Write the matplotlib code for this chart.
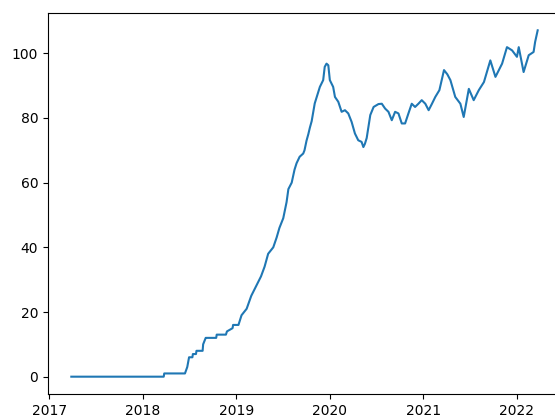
import matplotlib.pyplot as plt
import pandas as pd

dates = [
    "2017-03-28", "2018-03-24", "2018-03-26", "2018-06-15", "2018-06-24",
    "2018-07-01", "2018-07-14", "2018-07-16", "2018-07-28", "2018-07-30",
    "2018-08-23", "2018-08-25", "2018-09-04", "2018-09-08", "2018-10-15",
    "2018-10-17", "2018-11-22", "2018-11-26", "2018-12-18", "2018-12-20",
    "2019-01-08", "2019-01-10", "2019-01-22", "2019-02-11", "2019-03-01",
    "2019-03-20", "2019-04-08",
    "2019-04-22", "2019-05-06", "2019-05-26", "2019-06-08", "2019-06-19",
    "2019-07-04", "2019-07-17", "2019-07-24", "2019-08-06", "2019-08-17",
    "2019-08-25", "2019-09-06", "2019-09-20", "2019-09-25", "2019-10-03",
    "2019-10-10", "2019-10-16", "2019-10-23", "2019-11-04", "2019-11-24",
    "2019-12-07", "2019-12-13", "2019-12-20", "2019-12-27", "2020-01-02",
    "2020-01-15", "2020-01-22", "2020-02-04", "2020-02-17", "2020-03-01",
    "2020-03-14", "2020-03-27", "2020-04-09", "2020-04-22", "2020-05-05",
    "2020-05-12", "2020-05-18", "2020-05-25", "2020-06-08", "2020-06-21",
    "2020-07-10", "2020-07-23", "2020-08-05", "2020-08-18", "2020-08-31",
    "2020-09-13", "2020-09-26", "2020-10-09", "2020-10-22", "2020-11-04",
    "2020-11-17", "2020-11-30", "2020-12-13", "2020-12-26", "2021-01-09",
    "2021-01-22", "2021-02-04", "2021-02-17", "2021-03-05", "2021-03-23",
    "2021-04-05", "2021-04-17", "2021-05-06", "2021-05-26", "2021-06-08",
    "2021-06-28", "2021-07-17", "2021-08-06", "2021-08-26", "2021-09-20",
    "2021-10-10", "2021-11-05", "2021-11-24", "2021-12-14", "2022-01-02",
    "2022-01-09", "2022-01-28", "2022-02-17", "2022-03-08", "2022-03-14",
    "2022-03-24",
]
values = [
    0, 0, 1, 1, 3,
    6, 6, 7, 7, 8,
    8, 10, 12, 12, 12,
    13, 13, 14, 15, 16,
    16, 16, 19, 21, 25,
    28, 31,
    34, 38, 40, 43, 46,
    49, 54, 58, 60, 64,
    66, 68, 69, 70, 73,
    75, 77, 79, 84.5, 89.6,
    91.7, 95.8, 96.8, 96.3, 91.7,
    89.6, 86.5, 85, 81.9, 82.4,
    81.4, 78.8, 75.2, 73.1, 72.6,
    71, 72, 73.8, 80.9, 83.4,
    84.3, 84.4, 82.9, 81.9, 79.3,
    81.9, 81.4, 78.3, 78.3, 81.4,
    84.4, 83.4, 84.4, 85.5, 84.4,
    82.4, 84.4, 86.5, 88.6, 94.8,
    93.5, 91.7, 86.5, 84.4, 80.3,
    89, 85.5, 88.6, 91.1, 97.8,
    92.7, 96.8, 101.9, 100.9, 98.9,
    101.9, 94.2, 99.4, 100.4, 103.5,
    107.1,
]

x = pd.to_datetime(dates)

fig = plt.figure(figsize=(5.55, 4.16), dpi=100)
ax = fig.add_axes([48 / 555, 22 / 416, 513 / 555, 381 / 416])
ax.plot(x, values)

fig.savefig("out.png")
